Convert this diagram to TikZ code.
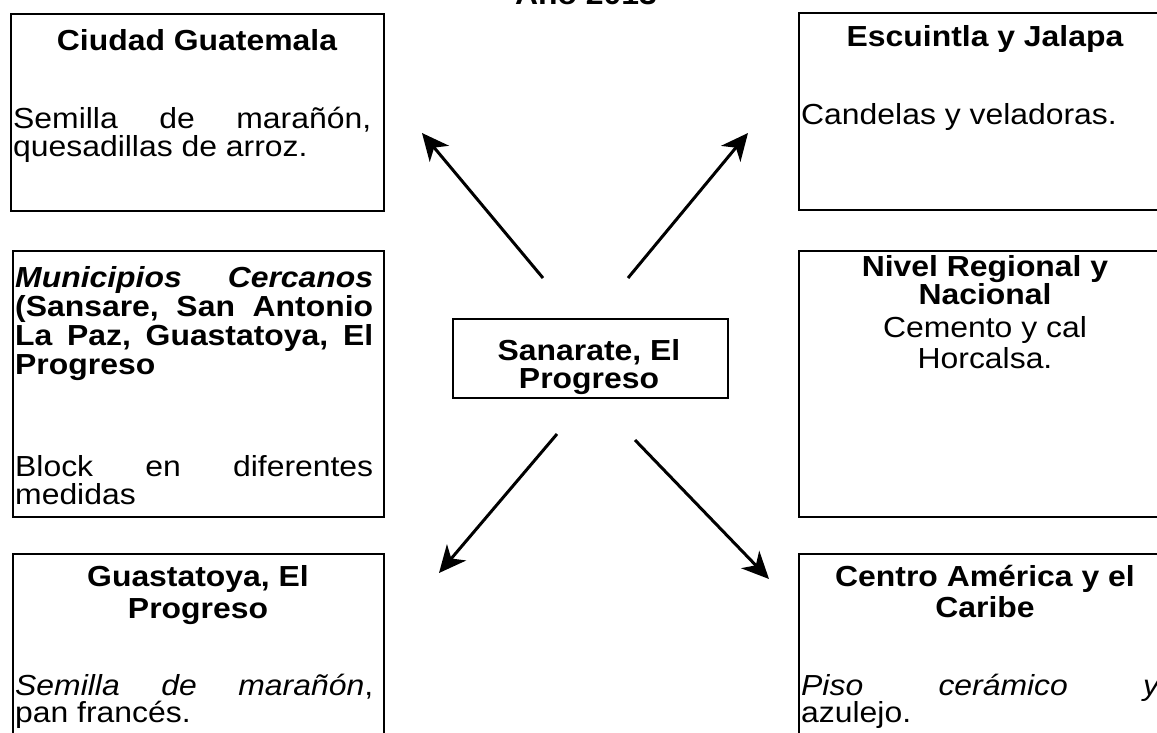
\documentclass[tikz,border=0pt]{standalone}
\usepackage{fontspec}
\setmainfont{Liberation Sans}[FakeStretch=1.1]
\usetikzlibrary{arrows.meta}
\newcommand{\jl}[1]{\makebox[358pt][s]{#1}}
\begin{document}
\begin{tikzpicture}[x=1pt,y=-1pt,
  box/.style={draw, line width=2pt, inner sep=0pt, anchor=north west},
  tc/.style={inner sep=0pt, anchor=base, font=\bfseries\fontsize{29}{32}\selectfont},
  rc/.style={inner sep=0pt, anchor=base, font=\fontsize{29}{32}\selectfont},
  tl/.style={inner sep=0pt, anchor=base west, font=\fontsize{29}{32}\selectfont},
  bl/.style={inner sep=0pt, anchor=base west, font=\bfseries\fontsize{29}{32}\selectfont},
  arr/.style={line width=3pt, -{Stealth[length=27pt,width=25pt,inset=8pt]}}]
\useasboundingbox (0,0) rectangle (1157,732);
\fill[white] (0,0) rectangle (1157,732);
% title (cut off at top)
\node[tc] (yr) at (586,4) {Año 2013};
% boxes
\node[box, minimum width=373pt, minimum height=197pt] (b1) at (10,13) {};
\node[box, minimum width=374pt, minimum height=197pt] (b2) at (798,12) {};
\node[box, minimum width=371pt, minimum height=266pt] (b3) at (12,250) {};
\node[box, minimum width=374pt, minimum height=266pt] (b4) at (798,250) {};
\node[box, minimum width=371pt, minimum height=200pt] (b5) at (12,553) {};
\node[box, minimum width=374pt, minimum height=200pt] (b6) at (798,553) {};
\node[box, minimum width=275pt, minimum height=79pt] (c) at (452,318) {};
% box 1
\node[tc] (t1) at (197,50) {Ciudad Guatemala};
\node[tl] (s1a) at (13,128) {\jl{Semilla\hfill de\hfill marañón,}};
\node[tl] (s1b) at (13,156) {quesadillas de arroz.};
% box 2
\node[tc] (t2) at (985,46) {Escuintla y Jalapa};
\node[tl] (s2) at (801,124) {Candelas y veladoras.};
% box 3
\node[bl] (s3a) at (15,287) {\jl{\itshape Municipios\hfill Cercanos}};
\node[bl] (s3b) at (15,316) {\jl{(Sansare,\hfill San\hfill Antonio}};
\node[bl] (s3c) at (15,345) {\jl{La\hfill Paz,\hfill Guastatoya,\hfill El}};
\node[bl] (s3d) at (15,374) {Progreso};
\node[tl] (s3e) at (15,476) {\jl{Block\hfill en\hfill diferentes}};
\node[tl] (s3f) at (15,504) {medidas};
% box 4
\node[tc] (t4a) at (985,276) {Nivel Regional y};
\node[tc] (t4b) at (985,304) {Nacional};
\node[rc] (s4a) at (985,337) {Cemento y cal};
\node[rc] (s4b) at (985,368) {Horcalsa.};
% centre
\node[tc] (tca) at (589,360) {Sanarate, El};
\node[tc] (tcb) at (589,388) {Progreso};
% box 5
\node[tc] (t5a) at (198,586) {Guastatoya, El};
\node[tc] (t5b) at (198,618) {Progreso};
\node[tl] (s5a) at (15,695) {\jl{\itshape Semilla\hfill de\hfill marañón\upshape,}};
\node[tl] (s5b) at (15,722) {pan francés.};
% box 6
\node[tc] (t6a) at (985,586) {Centro América y el};
\node[tc] (t6b) at (985,617) {Caribe};
\node[tl] (s6a) at (801,695) {\jl{\itshape Piso\hfill cerámico\hfill y}};
\node[tl] (s6b) at (801,722) {azulejo.};
% arrows
\coordinate (ulT) at (543,278); \coordinate (ulH) at (422,133);
\coordinate (urT) at (628,278); \coordinate (urH) at (748,133);
\coordinate (dlT) at (557,434); \coordinate (dlH) at (439,573);
\coordinate (drT) at (635,440); \coordinate (drH) at (769,579);
\draw[arr] (ulT) -- (ulH);
\draw[arr] (urT) -- (urH);
\draw[arr] (dlT) -- (dlH);
\draw[arr] (drT) -- (drH);
\end{tikzpicture}
\end{document}
